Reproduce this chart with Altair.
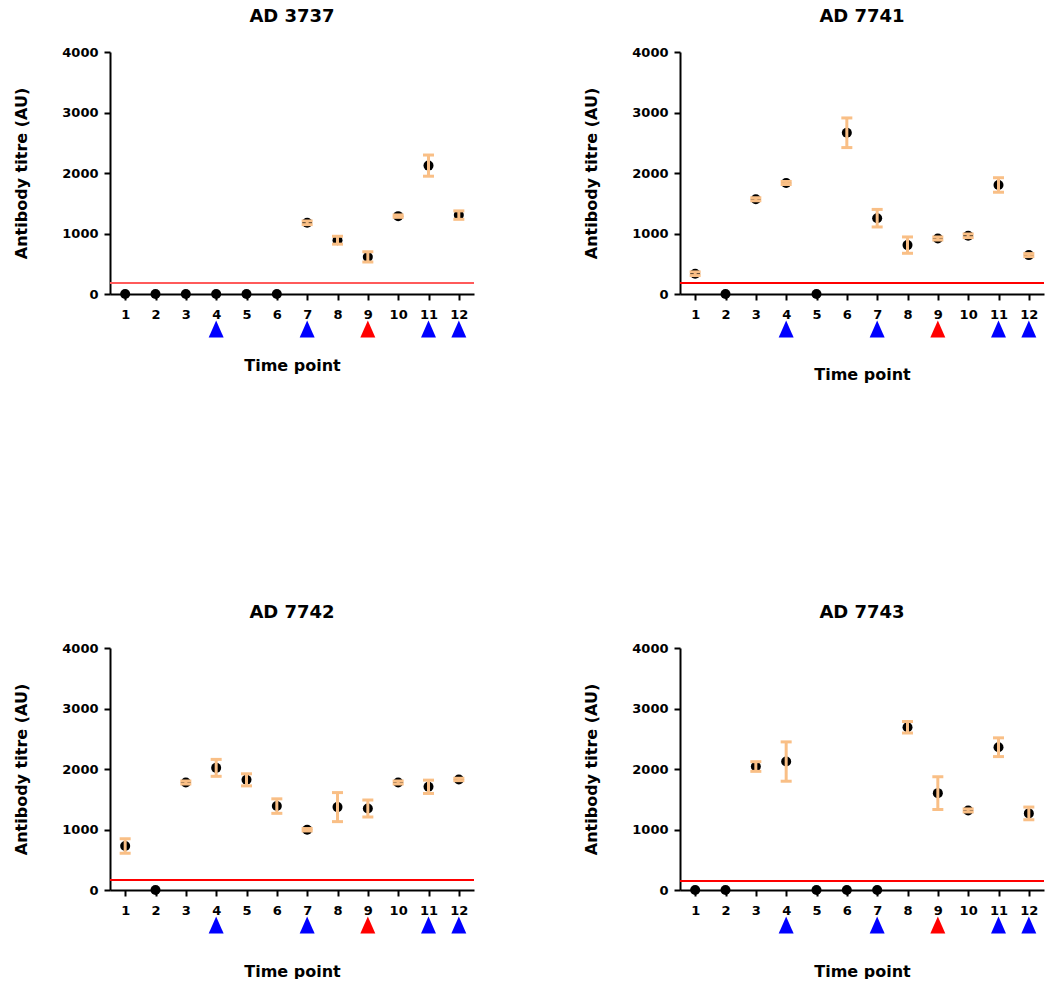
import altair as alt
import pandas as pd

# ---------------- data ----------------
time_points = list(range(1, 13))
panel_names = ["AD 3737", "AD 7741", "AD 7742", "AD 7743"]

ad3737_mean = [0, 0, 0, 0, 0, 0, 1177, 889, 613, 1287, 2122, 1304]
ad3737_err = [0, 0, 0, 0, 0, 0, 30, 65, 85, 20, 175, 70]

ad7741_mean = [335, 0, 1566, 1835, 0, 2665, 1253, 808, 918, 962, 1802, 643]
ad7741_err = [30, 0, 25, 25, 0, 245, 145, 135, 25, 30, 120, 25]

ad7742_mean = [726, 0, 1777, 2019, 1821, 1387, 996, 1370, 1348, 1777, 1706, 1827]
ad7742_err = [120, 0, 25, 140, 100, 120, 20, 240, 140, 25, 110, 20]

ad7743_mean = [0, 0, 2041, 2123, 0, 0, 0, 2690, 1601, 1315, 2360, 1266]
ad7743_err = [0, 0, 80, 325, 0, 0, 0, 95, 270, 25, 155, 105]

cutoffs = [182, 181, 165, 149]
cutoff_colors = ["#FF5A5A", "#FF0000", "#FF0000", "#FF0000"]
blue_arrows = [4, 7, 11, 12]
red_arrows = [9]

y_ticks = [0, 1000, 2000, 3000, 4000]

ORANGE = "#F9BF86"
FONT = "DejaVu Sans"
W, H = 364, 242
TRIANGLE = "M -0.88 1 L 0 -1 L 0.88 1 Z"


def panel(name, means, errs, cutoff, cutoff_color, xtitle_pad):
    df = pd.DataFrame({"t": time_points, "m": means, "e": errs})
    df["lo"] = df["m"] - df["e"]
    df["hi"] = df["m"] + df["e"]
    err_df = df[df["m"] > 0]

    xs = alt.Scale(domain=[0.5, 12.5], nice=False, zero=False)
    ys = alt.Scale(domain=[0, 4000], nice=False)

    x_axis = alt.Axis(
        values=time_points,
        title="Time point",
        titlePadding=xtitle_pad,
        format="d",
        labelPadding=8,
        labelOverlap=False,
        labelFlush=False,
    )
    y_axis = alt.Axis(
        values=y_ticks,
        title="Antibody titre (AU)",
        titlePadding=32,
        labelPadding=6,
        format="d",
        labelOverlap=False,
        labelFlush=False,
    )
    x = alt.X("t:Q", scale=xs, axis=x_axis)

    pts = alt.Chart(df).mark_point(
        filled=True, shape="circle", size=100, color="black", opacity=1
    ).encode(x=x, y=alt.Y("m:Q", scale=ys, axis=y_axis))

    bars = alt.Chart(err_df).mark_rule(color=ORANGE, strokeWidth=3).encode(
        x=x, y=alt.Y("lo:Q", scale=ys, axis=y_axis), y2="hi:Q"
    )
    cap_hi = alt.Chart(err_df).mark_tick(
        orient="horizontal", color=ORANGE, size=11, thickness=3, opacity=1
    ).encode(x=x, y=alt.Y("hi:Q", scale=ys, axis=y_axis))
    cap_lo = alt.Chart(err_df).mark_tick(
        orient="horizontal", color=ORANGE, size=11, thickness=3, opacity=1
    ).encode(x=x, y=alt.Y("lo:Q", scale=ys, axis=y_axis))

    cut = alt.Chart(pd.DataFrame({"c": [cutoff]})).mark_rule(
        color=cutoff_color, strokeWidth=2
    ).encode(y=alt.Y("c:Q", scale=ys, axis=y_axis))

    tri_df = pd.DataFrame(
        {
            "t": blue_arrows + red_arrows,
            "kind": ["blue"] * len(blue_arrows) + ["red"] * len(red_arrows),
        }
    )
    tri = alt.Chart(tri_df).mark_point(
        shape=TRIANGLE, filled=True, size=289, opacity=1
    ).encode(
        x=x,
        y=alt.value(H + 35),
        color=alt.Color(
            "kind:N",
            scale=alt.Scale(domain=["blue", "red"], range=["#0000FF", "#FF0000"]),
            legend=None,
        ),
    )

    return alt.layer(cut, pts, bars, cap_hi, cap_lo, tri).properties(
        width=W,
        height=H,
        title=alt.TitleParams(
            name,
            font=FONT,
            fontSize=18,
            fontWeight="bold",
            anchor="middle",
            frame="group",
            offset=20,
            color="black",
        ),
    )


p1 = panel(panel_names[0], ad3737_mean, ad3737_err, cutoffs[0], cutoff_colors[0], 36)
p2 = panel(panel_names[1], ad7741_mean, ad7741_err, cutoffs[1], cutoff_colors[1], 45)
p3 = panel(panel_names[2], ad7742_mean, ad7742_err, cutoffs[2], cutoff_colors[2], 46)
p4 = panel(panel_names[3], ad7743_mean, ad7743_err, cutoffs[3], cutoff_colors[3], 46)

chart = (
    alt.vconcat(
        alt.hconcat(p1, p2, spacing=108),
        alt.hconcat(p3, p4, spacing=108),
        spacing=222,
    )
    .properties(padding={"left": 13, "top": 8, "right": 0, "bottom": 0})
    .configure_view(stroke=None)
    .configure_axis(
        grid=False,
        domainColor="black",
        domainWidth=2,
        tickColor="black",
        tickWidth=2,
        tickSize=6,
        labelFont=FONT,
        labelFontSize=13,
        labelFontWeight="bold",
        labelColor="black",
        titleFont=FONT,
        titleFontSize=16,
        titleFontWeight="bold",
        titleColor="black",
    )
    .configure_axisX(labelOverlap=False)
)

chart.save("out.html", embed_options={"renderer": "svg", "actions": False})
